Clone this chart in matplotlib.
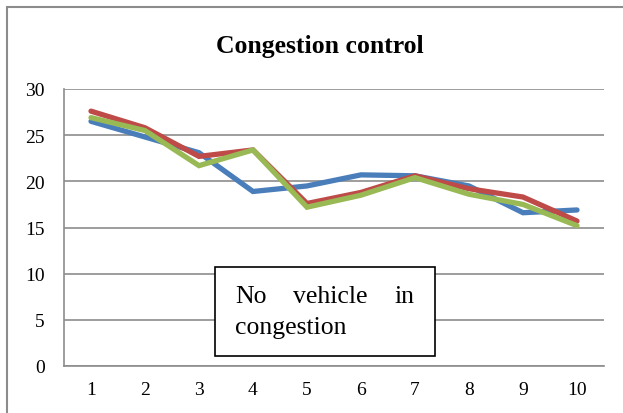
import matplotlib
matplotlib.use("Agg")
import matplotlib.pyplot as plt
from matplotlib.patches import Rectangle

categories = [1, 2, 3, 4, 5, 6, 7, 8, 9, 10]
series_blue = [26.5, 24.8, 23.1, 18.9, 19.5, 20.7, 20.6, 19.5, 16.6, 16.9]
series_red = [27.6, 25.8, 22.7, 23.4, 17.6, 18.8, 20.6, 19.2, 18.3, 15.7]
series_green = [26.9, 25.5, 21.7, 23.4, 17.2, 18.5, 20.4, 18.6, 17.5, 15.2]
yticks = [0, 5, 10, 15, 20, 25, 30]
title = "Congestion control"

W, H = 623, 414
plt.rcParams['font.family'] = ['Liberation Serif', 'DejaVu Serif']
fig = plt.figure(figsize=(W / 100, H / 100), dpi=100)

# outer border (right and bottom edges fall outside the picture)
fig.patches.append(Rectangle((7 / W, -0.1), 1.2, (H - 8) / H + 0.1, transform=fig.transFigure,
                             fill=False, edgecolor='#8c8c8c', linewidth=1.5))

ax = fig.add_axes([64 / W, (H - 367) / H, (604 - 64) / W, (367 - 90) / H])
colors = ['#4A7EBB', '#BE4B48', '#98B954']
for s, c in zip([series_blue, series_red, series_green], colors):
    ax.plot(categories, s, color=c, linewidth=3.8, solid_capstyle='round', solid_joinstyle='miter')

ax.set_xlim(0.5, 10.5)
ax.set_ylim(0, 30)
ax.set_yticks(yticks)
ax.set_xticks(categories)
ax.grid(axis='y', color='#8c8c8c', linewidth=1.2)
ax.set_axisbelow(True)
for sp in ['top', 'right']:
    ax.spines[sp].set_visible(False)
ax.spines['left'].set_color('#8c8c8c')
ax.spines['bottom'].set_color('#8c8c8c')
ax.spines['left'].set_linewidth(1.2)
ax.spines['bottom'].set_linewidth(1.2)
ax.tick_params(axis='y', length=0, labelsize=14, pad=14)
ax.tick_params(axis='x', length=0, labelsize=14, pad=11)

fig.text(320 / W, (H - 53) / H, title, ha='center', va='baseline',
         fontsize=18.5, fontweight='bold')

# text box
fig.patches.append(Rectangle((215 / W, (H - 357) / H), (435 - 215) / W, (357 - 268) / H,
                             transform=fig.transFigure, facecolor='white', edgecolor='black',
                             linewidth=1.2, zorder=5))
fs = 18.5
fig.text(235 / W, (H - 303) / H, "No", fontsize=fs, va='baseline', ha='left', zorder=6)
fig.text(330 / W, (H - 303) / H, "vehicle", fontsize=fs, va='baseline', ha='center', zorder=6)
fig.text(414 / W, (H - 303) / H, "in", fontsize=fs, va='baseline', ha='right', zorder=6)
fig.text(235 / W, (H - 334) / H, "congestion", fontsize=fs, va='baseline', ha='left', zorder=6)

fig.savefig("out.png", dpi=100)
